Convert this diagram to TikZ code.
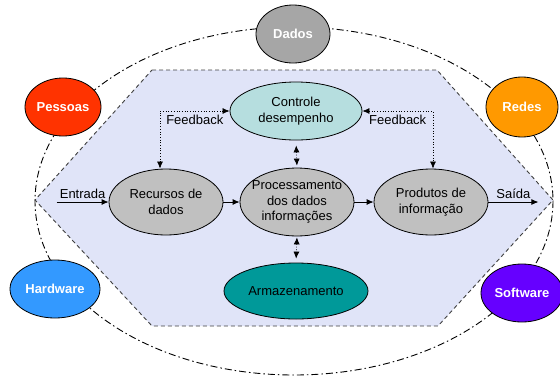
\documentclass[tikz,border=0pt]{standalone}
\usepackage{fontspec}
\setmainfont{Liberation Sans}
\usetikzlibrary{calc}
\usetikzlibrary{positioning}
\usetikzlibrary{shapes.geometric}
\usetikzlibrary{arrows.meta}
\definecolor{hexfill}{HTML}{E0E4F8}
\definecolor{hexline}{HTML}{404040}
\definecolor{procgray}{HTML}{C0C0C0}
\definecolor{dadosgray}{HTML}{A6A6A6}
\definecolor{pessoasred}{HTML}{FF3300}
\definecolor{redesorange}{HTML}{FF9900}
\definecolor{hardblue}{HTML}{3399FF}
\definecolor{softpurple}{HTML}{6600FF}
\definecolor{ctrlcyan}{HTML}{B6DEDF}
\definecolor{armteal}{HTML}{009999}
\tikzstyle{procnode} = [draw, line width=0.8pt, ellipse, inner sep=-30pt, align=center, fill=procgray, font=\fontsize{13}{15.5}\selectfont]
\tikzstyle{resnode} = [draw, line width=0.8pt, ellipse, inner sep=-30pt, align=center, text=white, font=\fontsize{13}{15.5}\selectfont\bfseries]
\tikzstyle{lbl} = [font=\fontsize{13}{15.5}\selectfont]
\tikzstyle{flow} = [line width=0.8pt, -{Latex[length=7pt,width=6pt]}]
\tikzstyle{fback} = [dotted, line width=0.7pt, {Latex[length=7pt,width=6pt]}-{Latex[length=7pt,width=6pt]}]

\begin{document}
\begin{tikzpicture}[x=1pt, y=-1pt]
    \useasboundingbox (0,0) rectangle (560,378);
    % outer ring and system boundary
    \draw[line width=0.9pt, dash pattern=on 7pt off 3pt on 1.5pt off 3pt] (294,201) ellipse [x radius=259, y radius=174];
    \draw[hexline, line width=0.9pt, dash pattern=on 4pt off 3pt, fill=hexfill] (152,70) -- (437,70) -- (553,200) -- (438,326) -- (152,326) -- (35,200) -- cycle;

    % resources around the system
    \node[resnode, fill=dadosgray, minimum width=74, minimum height=58] (dados) at (293,34) {Dados};
    \node[resnode, fill=pessoasred, minimum width=76, minimum height=58] (pessoas) at (63,107) {Pessoas};
    \node[resnode, fill=redesorange, minimum width=72, minimum height=60] (redes) at (522,107) {Redes};
    \node[resnode, fill=hardblue, minimum width=90, minimum height=58] (hardware) at (55,289) {Hardware};
    \node[resnode, fill=softpurple, minimum width=82, minimum height=58] (software) at (522,293) {Software};

    % the processing chain
    \node[procnode, minimum width=114, minimum height=68] (processa) at (297,202) {Processamento\\dos dados\\informações};
    \node[procnode, minimum width=114, minimum height=66] (recursos) at ($(processa)+(-131,0)$) {Recursos de\\dados};
    \node[procnode, minimum width=114, minimum height=66] (produtos) at ($(processa)+(134,0)$) {Produtos de\\informação};
    \node[procnode, fill=ctrlcyan, minimum width=132, minimum height=58] (controle) at ($(processa)+(-1,-91)$) {Controle\\desempenho};
    \node[procnode, fill=armteal, minimum width=144, minimum height=56] (armazena) at ($(processa)+(-1,89)$) {Armazenamento};
    \coordinate (entrada) at ($(recursos.west)+(-52,0)$);
    \coordinate (saida) at ($(produtos.east)+(50,0)$);

    \draw[flow] (entrada) -- node[lbl, above] {Entrada} (recursos.west);
    \draw[flow] (recursos) -- (processa);
    \draw[flow] (processa) -- (produtos);
    \draw[flow] (produtos.east) -- node[lbl, above] {Saída} (saida);

    \draw[fback] ($(recursos.north)+(-6,0)$) |- node[lbl, pos=0.75, below] {Feedback} (controle.west);
    \draw[fback] (controle.east) -| node[lbl, pos=0.25, below] {Feedback} ($(produtos.north)+(2,0)$);
    \draw[fback, shorten <=5pt, shorten >=2pt] (controle.south) -- (processa.north);
    \draw[fback, shorten <=1pt, shorten >=4pt] (processa.south) -- (armazena.north);
\end{tikzpicture}
\end{document}
